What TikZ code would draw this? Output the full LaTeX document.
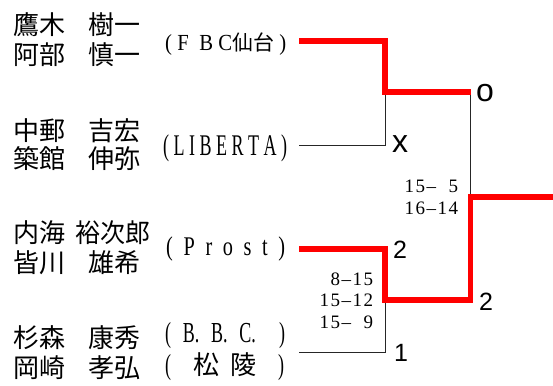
\documentclass[tikz,border=0pt]{standalone}
\usepackage{fontspec}
\usepackage{graphicx}
\newfontfamily\cjk{Noto Sans CJK JP}
\newfontfamily\tmr{Liberation Serif}
\newfontfamily\ari{Liberation Sans}
\newcommand\sx[2]{\scalebox{#1}[1]{#2}}
\newcommand\dg[1]{\makebox[11pt][c]{#1}}
\newcommand\cj[2]{{\cjk\fontsize{#1}{#1}\selectfont #2}}
\newcommand\tmsize[1]{\tmr\fontsize{#1}{#1}\selectfont}
\tikzset{
  nm/.style={font=\cjk\fontsize{26}{26}\selectfont, inner sep=0pt, anchor=base west},
  tm/.style={inner sep=0pt, anchor=base west},
  sc/.style={font=\tmr\fontsize{19}{19}\selectfont, inner sep=0pt},
  res/.style={font=\ari\fontsize{25}{25}\selectfont, inner sep=0pt, anchor=base},
  mk/.style={font=\ari\fontsize{32}{32}\selectfont, inner sep=0pt, anchor=base},
  win/.style={draw=red, line width=5.5pt},
  lose/.style={draw=black!85, line width=1pt},
}
\begin{document}
\begin{tikzpicture}[x=1pt,y=-1pt]
\useasboundingbox (0,0) rectangle (553,385);
% player names
\node[nm] (p1a) at (13,35) {鷹木};
\node[nm] (p1b) at (88,35) {樹一};
\node[nm] (p2a) at (13,65) {阿部};
\node[nm] (p2b) at (88,65) {慎一};
\node[nm] (p3a) at (13,140) {中郵};
\node[nm] (p3b) at (88,140) {吉宏};
\node[nm] (p4a) at (13,168) {築館};
\node[nm] (p4b) at (88,168) {伸弥};
\node[nm] (p5a) at (13,242) {内海};
\node[nm] (p5b) at (75,242) {\scalebox{0.96}[1]{裕次郎}};
\node[nm] (p6a) at (13,272) {皆川};
\node[nm] (p6b) at (88,272) {雄希};
\node[nm] (p7a) at (13,347) {杉森};
\node[nm] (p7b) at (88,347) {康秀};
\node[nm] (p8a) at (13,377) {岡崎};
\node[nm] (p8b) at (88,377) {孝弘};
% team names
\node[tm, font=\tmsize{23}] (t1) at (165,51)
  {\makebox[121pt][s]{\sx{0.9}{(}\hfill\sx{0.9}{F}\hfill\hfill\sx{0.9}{B}\hfill\sx{0.9}{C}\cj{21}{仙台}\hfill\sx{0.9}{)}}};
\node[tm, font=\tmsize{30}] (t2) at (163,155)
  {\makebox[124pt][s]{\sx{0.6}{(}\hfill\sx{0.6}{L}\hfill\sx{0.6}{I}\hfill\sx{0.6}{B}\hfill\sx{0.6}{E}\hfill\sx{0.6}{R}\hfill\sx{0.6}{T}\hfill\sx{0.6}{A}\hfill\sx{0.6}{)}}};
\node[tm, font=\tmsize{27}] (t3) at (166,255)
  {\makebox[119pt][s]{\sx{0.75}{(}\hfill\sx{0.75}{P}\hfill\sx{0.75}{r}\hfill\sx{0.75}{o}\hfill\sx{0.75}{s}\hfill\sx{0.75}{t}\hfill\sx{0.75}{)}}};
\node[tm, font=\tmsize{29}] (t4a) at (165,342)
  {\makebox[120pt][s]{\sx{0.62}{(}\hfill\sx{0.62}{B.}\hfill\sx{0.62}{B.}\hfill\sx{0.62}{C.}\hfill\hfill\sx{0.62}{)}}};
\node[tm, font=\tmsize{29}] (t4b) at (165,374)
  {\makebox[119pt][s]{\sx{0.62}{(}\hfill\hfill\cj{26}{松}\hfill\cj{26}{陵}\hfill\hfill\sx{0.62}{)}}};
% bracket points
\coordinate (a1) at (299,41);
\coordinate (a2) at (299,145);
\coordinate (a3) at (299,249);
\coordinate (a4) at (299,352);
\coordinate (j1) at (385,92);
\coordinate (j2) at (385,300);
\coordinate (w1) at (470.5,92);
\coordinate (w2) at (470.5,300);
\coordinate (f) at (470.5,197);
\coordinate (e) at (556,197);
% losing lines
\draw[lose] (a2) -| (j1);
\draw[lose] (a4) -| (j2);
\draw[lose] (w1) -- (f);
% winning lines
\draw[win] (a1) -| (j1) -- (w1);
\draw[win] (a3) -| (j2) -- (w2) -- (f) -- (e);
% results
\node[mk] (r1) at (485,101) {o};
\node[mk] (r2) at (400,152) {x};
\node[res] (r3) at (400,258) {2};
\node[res] (r4) at (486,310) {2};
\node[res] (r5) at (401,361) {1};
% scores
\node[sc, anchor=base east] (s1) at (459,192.5) {\dg1\dg5\dg{–}\dg{}\dg5};
\node[sc, anchor=base east] (s2) at (459,214.5) {\dg1\dg6\dg{–}\dg1\dg4};
\node[sc, anchor=base east] (s3) at (374,285) {\dg8\dg{–}\dg1\dg5};
\node[sc, anchor=base east] (s4) at (374,306.5) {\dg1\dg5\dg{–}\dg1\dg2};
\node[sc, anchor=base east] (s5) at (374,328) {\dg1\dg5\dg{–}\dg{}\dg9};
\end{tikzpicture}
\end{document}
